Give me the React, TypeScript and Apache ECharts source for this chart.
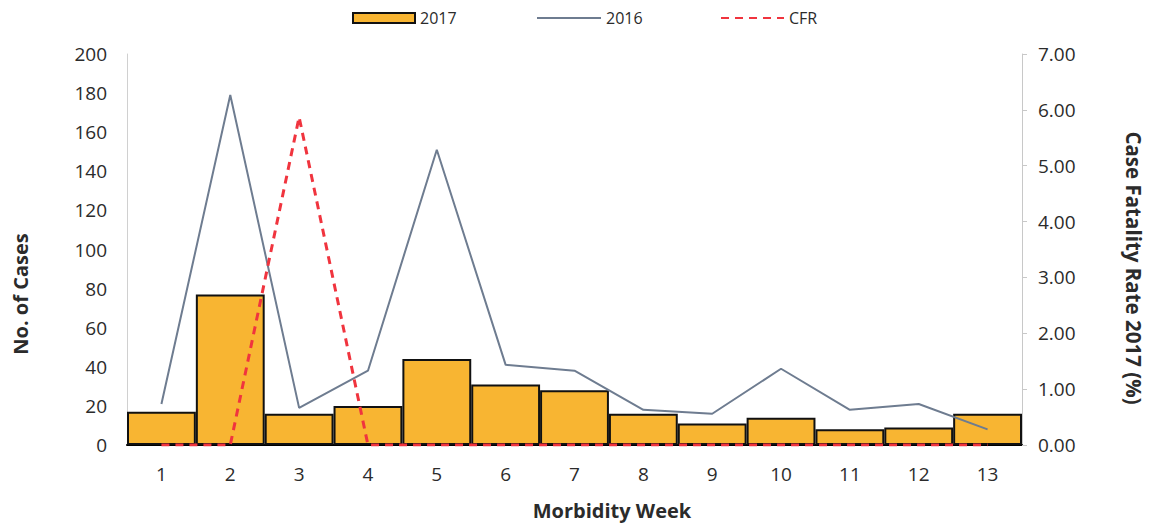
import React, { useEffect, useRef } from "react";
import * as echarts from "echarts";

const weeks = ["1", "2", "3", "4", "5", "6", "7", "8", "9", "10", "11", "12", "13"];
const cases2017 = [17, 77, 16, 20, 44, 31, 28, 16, 11, 14, 8, 9, 16];
const cases2016 = [21, 179, 19, 38, 151, 41, 38, 18, 16, 39, 18, 21, 8];
const cfr2017 = [0, 0, 5.87, 0, 0, 0, 0, 0, 0, 0, 0, 0, 0];
const leftTicks = { min: 0, max: 200, interval: 20 };
const rightTicks = { min: 0, max: 7, interval: 1 };
const leftTitle = "No. of Cases";
const rightTitle = "Case Fatality Rate 2017 (%)";
const xTitle = "Morbidity Week";

const FONT = "'Open Sans', 'Noto Sans', sans-serif";
const TXT = "#2b2b2b";

export default function App() {
  const ref = useRef<HTMLDivElement>(null);
  useEffect(() => {
    const chart = echarts.init(ref.current!, undefined, { renderer: "svg" });
    const legendText = { fontSize: 16, color: TXT, fontFamily: FONT };
    chart.setOption({
      animation: false,
      textStyle: { fontFamily: FONT },
      grid: { left: 127, right: 135, top: 54, bottom: 78, containLabel: false },
      legend: [
        {
          data: [{ name: "2017", icon: "rect" }],
          left: 347, top: 5, itemWidth: 62, itemHeight: 10,
          textStyle: legendText,
        },
        {
          data: ["2016"],
          left: 531, top: 5, itemWidth: 64, itemHeight: 10,
          itemStyle: { opacity: 0 },
          textStyle: legendText,
        },
        {
          data: ["CFR"],
          left: 715, top: 5, itemWidth: 63, itemHeight: 10,
          itemStyle: { opacity: 0 },
          textStyle: legendText,
        },
      ],
      graphic: [
        {
          type: "text",
          x: 20, y: 294, rotation: Math.PI / 2,
          style: {
            text: leftTitle, fontSize: 20, fontWeight: "bold", fill: TXT, fontFamily: FONT,
            align: "center", verticalAlign: "middle",
          },
        },
        {
          type: "text",
          x: 1134, y: 268, rotation: -Math.PI / 2,
          style: {
            text: rightTitle, fontSize: 20.5, fontWeight: "bold", fill: TXT, fontFamily: FONT,
            align: "center", verticalAlign: "middle",
          },
        },
        {
          type: "text",
          x: 612, y: 510,
          style: {
            text: xTitle, fontSize: 20, fontWeight: "bold", fill: TXT, fontFamily: FONT,
            align: "center", verticalAlign: "middle",
          },
        },
      ],
      xAxis: {
        type: "category",
        data: weeks,
        axisLine: { show: true, lineStyle: { color: "#000", width: 2 } },
        axisTick: { show: false },
        axisLabel: { fontSize: 19, color: TXT, margin: 19, fontFamily: FONT },
      },
      yAxis: [
        {
          type: "value",
          ...leftTicks,
          axisLine: { show: true, lineStyle: { color: "#d0d0d0", width: 1 } },
          axisTick: { show: false },
          splitLine: { show: false },
          axisLabel: { fontSize: 19, color: TXT, margin: 20, fontFamily: FONT },
        },
        {
          type: "value",
          ...rightTicks,
          position: "right",
          axisLine: { show: true, lineStyle: { color: "#c8c8c8", width: 1 } },
          axisTick: { show: true, length: 5, inside: false, lineStyle: { color: "#c8c8c8" } },
          splitLine: { show: false },
          axisLabel: {
            fontSize: 19, color: TXT, margin: 16, fontFamily: FONT,
            formatter: (v: number) => v.toFixed(2),
          },
        },
      ],
      series: [
        {
          name: "2017",
          type: "bar",
          data: cases2017,
          barCategoryGap: "0%",
          itemStyle: { color: "#F8B532", borderColor: "#111", borderWidth: 2 },
          z: 1,
        },
        {
          name: "2016",
          type: "line",
          data: cases2016,
          symbol: "none",
          lineStyle: { color: "#6E7C90", width: 2 },
          itemStyle: { color: "#6E7C90" },
          z: 3,
        },
        {
          name: "CFR",
          type: "line",
          yAxisIndex: 1,
          data: cfr2017,
          symbol: "none",
          lineStyle: { color: "#F0343E", width: 3, type: [8, 6] },
          itemStyle: { color: "#F0343E" },
          z: 4,
        },
      ],
    });
    return () => chart.dispose();
  }, []);
  return (
    <div
      ref={ref}
      style={{ position: "fixed", left: 0, top: 0, width: 1157, height: 523, background: "#fff" }}
    />
  );
}
